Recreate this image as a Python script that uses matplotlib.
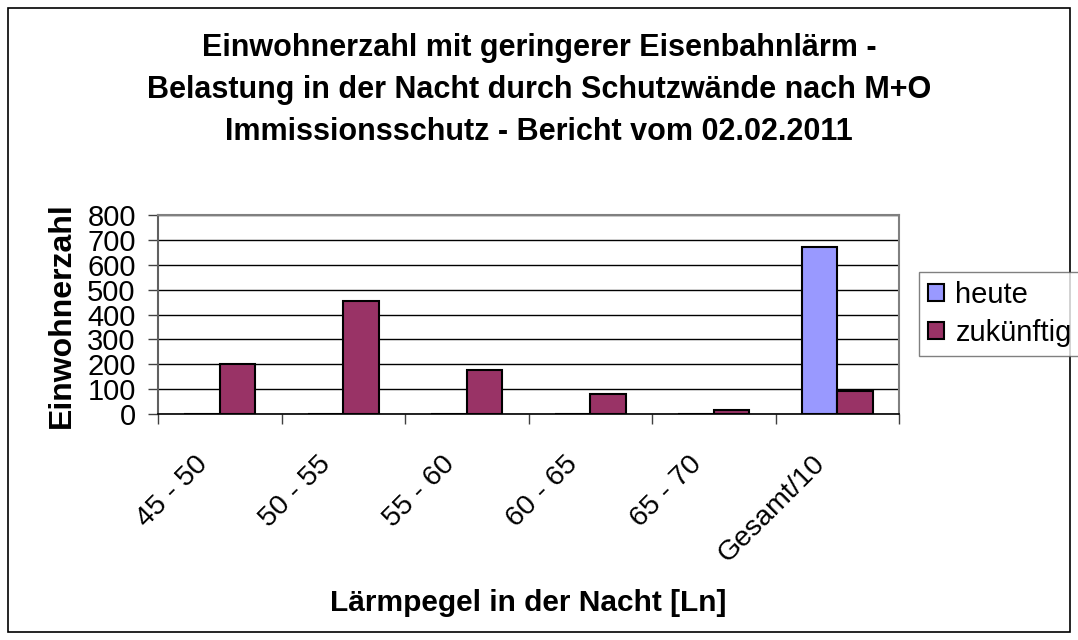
import matplotlib.pyplot as plt
import numpy as np
from matplotlib.patches import Rectangle
from matplotlib.ticker import FixedLocator
import matplotlib.transforms as mtransforms

plt.rcParams["font.family"] = ["Liberation Sans", "DejaVu Sans"]

categories = ["45 - 50", "50 - 55", "55 - 60", "60 - 65", "65 - 70", "Gesamt/10"]
heute = [0, 0, 0, 0, 0, 670]
zukuenftig = [200, 455, 175, 80, 15, 93]
title_lines = [
    "Einwohnerzahl mit geringerer Eisenbahnlärm -",
    "Belastung in der Nacht durch Schutzwände nach M+O",
    "Immissionsschutz - Bericht vom 02.02.2011",
]

W, H = 1078, 640
fig = plt.figure(figsize=(W / 100, H / 100), dpi=100)
ax = fig.add_axes([158 / W, 1 - 414 / H, (899 - 158) / W, (414 - 215) / H])

x = np.arange(len(categories))
w = 0.286
ax.bar(x - w / 2, heute, width=w, color="#9999FF", edgecolor="black", linewidth=1.5,
       label="heute", zorder=3)
ax.bar(x + w / 2, zukuenftig, width=w, color="#993366", edgecolor="black", linewidth=1.5,
       label="zukünftig", zorder=3)

ax.set_xlim(-0.5, len(categories) - 0.5)
ax.set_ylim(0, 800)
ax.set_yticks(np.arange(0, 801, 100))
ax.yaxis.grid(True, color="black", linewidth=1.0, zorder=0)
ax.tick_params(axis="y", labelsize=21, direction="out", length=7, width=1, pad=9, color="#404040")

ax.set_xticks(x)
ax.set_xticklabels(categories, rotation=45, ha="right", va="center", rotation_mode="anchor", fontsize=20.5)
ax.tick_params(axis="x", which="major", length=0, pad=0)
ax.xaxis.set_minor_locator(FixedLocator(np.arange(-0.5, len(categories), 1.0)))
ax.tick_params(axis="x", which="minor", direction="out", length=7, width=1, color="#404040")
offset = mtransforms.ScaledTranslation(-16 / 100, -46 / 100, fig.dpi_scale_trans)
for lbl in ax.get_xticklabels():
    lbl.set_transform(lbl.get_transform() + offset)

for side in ["top", "right"]:
    ax.spines[side].set_color("#808080")
    ax.spines[side].set_linewidth(1.5)
ax.spines["left"].set_color("#606060")
ax.spines["left"].set_linewidth(1.5)
ax.spines["bottom"].set_color("black")
ax.spines["bottom"].set_linewidth(1.2)

for i, line in enumerate(title_lines):
    fig.text(539 / W, 1 - (48 + 42 * i) / H, line, ha="center", va="center",
             fontsize=22, fontweight="bold")

fig.text(62 / W, 1 - 315 / H, "Einwohnerzahl", rotation=90, ha="center", va="center",
         fontsize=23, fontweight="bold")
fig.text(528 / W, 1 - 603 / H, "Lärmpegel in der Nacht [Ln]", ha="center", va="center",
         fontsize=21.5, fontweight="bold")

leg = fig.legend(loc="upper left", bbox_to_anchor=(919 / W, 1 - 272 / H), fontsize=21,
                 frameon=True, fancybox=False, edgecolor="#606060", handlelength=0.55,
                 handleheight=0.55, handletextpad=0.4, borderpad=0.3, labelspacing=0.35,
                 borderaxespad=0)
leg.get_frame().set_linewidth(1.0)

fig.patches.append(Rectangle((8 / W, 8 / H), (1070 - 8) / W, (632 - 8) / H, fill=False,
                             edgecolor="black", linewidth=1.2, transform=fig.transFigure))

fig.savefig("out.png", dpi=100)
